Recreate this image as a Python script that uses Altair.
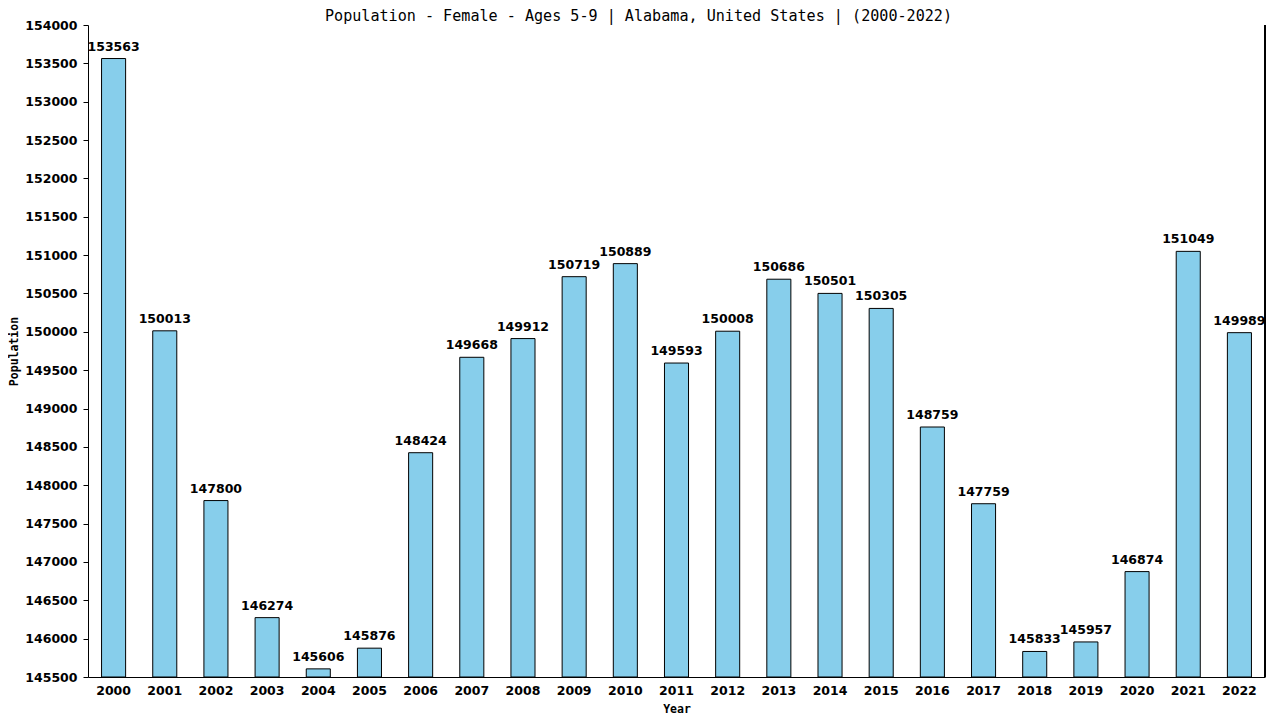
import altair as alt
import pandas as pd

years = [str(y) for y in range(2000, 2023)]
population = [153563, 150013, 147800, 146274, 145606, 145876, 148424, 149668,
              149912, 150719, 150889, 149593, 150008, 150686, 150501, 150305,
              148759, 147759, 145833, 145957, 146874, 151049, 149989]
y_min, y_max, y_step = 145500, 154000, 500
y_ticks = list(range(y_min, y_max + 1, y_step))

df = pd.DataFrame({"Year": years, "Population": population})

W, H = 1177, 652
FONT = "DejaVu Sans"
MONO = "DejaVu Sans Mono"
LBL = 12.5

x_enc = alt.X("Year:N", sort=years, title="Year",
              scale=alt.Scale(paddingInner=0.53, paddingOuter=0.265),
              axis=alt.Axis(labelAngle=0, ticks=False, domainColor="black",
                            labelFont=FONT, labelFontSize=LBL, labelFontWeight="bold",
                            labelColor="black", labelPadding=7, labelOverlap=False,
                            titleFont=MONO, titleFontSize=11.5, titleFontWeight="bold",
                            titleColor="black", titlePadding=7))
y_enc = alt.Y("Population:Q", title="Population",
              scale=alt.Scale(domain=[y_min, y_max], nice=False, zero=False),
              axis=alt.Axis(values=y_ticks, format="d", grid=False, tickSize=5,
                            tickColor="black", domainColor="black", labelFont=FONT,
                            labelFontSize=LBL, labelFontWeight="bold",
                            labelColor="black", labelPadding=6,
                            labelOverlap=False, labelFlush=False, titleFont=MONO,
                            titleFontSize=11.5, titleFontWeight="bold",
                            titleColor="black", titleX=-73.5, titleY=H / 2,
                            titleBaseline="middle", titleAngle=270))

base = alt.Chart(df).encode(x=x_enc, y=y_enc)

bars = base.mark_bar(color="#87CEEB", stroke="black", strokeWidth=1).encode(
    y2=alt.datum(y_min),
)

labels = base.mark_text(font=FONT, fontSize=LBL, fontWeight="bold", color="black",
                        baseline="bottom", dy=-5).encode(
    text=alt.Text("Population:Q", format="d"),
)

right_line = alt.Chart(df).mark_rule(color="black", strokeWidth=1).encode(
    x=alt.value(W), y=alt.value(0), y2=alt.value(H)
)

chart = alt.layer(bars, labels, right_line).properties(
    width=W, height=H,
    background="white",
    title=alt.TitleParams("Population - Female - Ages 5-9 | Alabama, United States |  (2000-2022)",
                          font=MONO, fontSize=15.1, fontWeight="normal",
                          color="black", anchor="middle", dx=-38, offset=0, dy=17.5,
                          frame="group", baseline="alphabetic"),
    autosize=alt.AutoSizeParams(type="none"),
    padding={"left": 80, "top": 17, "right": 7, "bottom": 45},
).configure_view(stroke="transparent", strokeWidth=0)

chart.save("out.html", embed_options={"renderer": "svg", "actions": False})
